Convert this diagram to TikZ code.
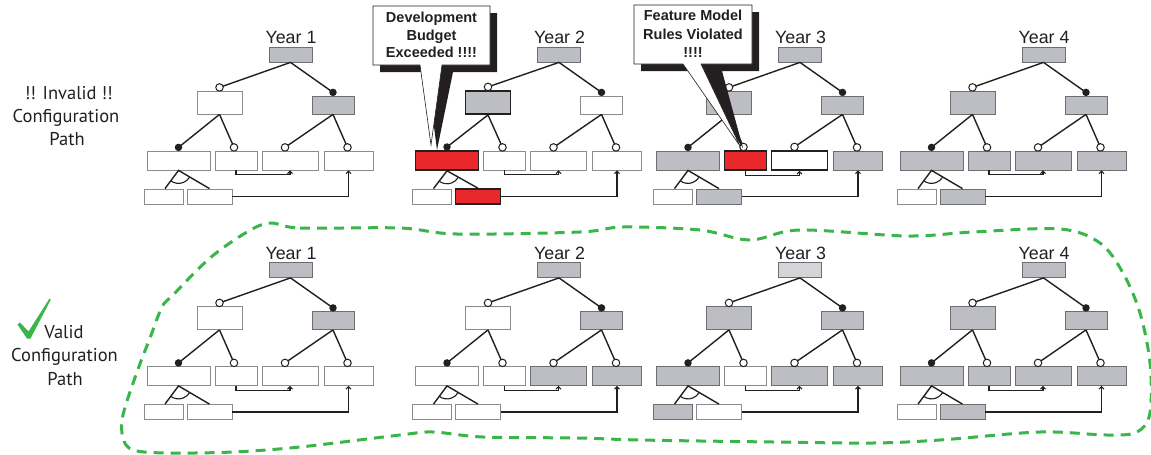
\documentclass[tikz,border=0pt]{standalone}
\usepackage{fontspec}
\setmainfont{Liberation Sans}
\newfontfamily\pathfont{PT Sans}
\usetikzlibrary{calc,arrows.meta}
\definecolor{ink}{HTML}{231F20}
\definecolor{boxgray}{HTML}{BCBEC4}
\definecolor{lightboxgray}{HTML}{D3D5D9}
\definecolor{edgegray}{HTML}{6D6E71}
\definecolor{alertred}{HTML}{E8282B}
\definecolor{okgreen}{HTML}{39B54A}
\tikzset{
 fbox/.style={rectangle, inner sep=0pt, line width=0.8pt},
 gbox/.style={fbox, fill=boxgray, draw=edgegray},
 lgbox/.style={fbox, fill=lightboxgray, draw=edgegray},
 wbox/.style={fbox, fill=white, draw=edgegray!80},
 gboxT/.style={fbox, fill=boxgray, draw=ink, line width=1.8pt},
 wboxT/.style={fbox, fill=white, draw=ink, line width=1.8pt},
 rbox/.style={fbox, fill=alertred, draw=ink, line width=1.6pt},
 link/.style={draw=ink, line width=1.4pt},
 odot/.style={circle, draw=ink, fill=white, line width=1pt, inner sep=0pt, minimum size=7.5pt},
 fdot/.style={circle, fill=ink, inner sep=0pt, minimum size=7.5pt},
 req/.style={draw=ink, line width=1.1pt, -{Straight Barb[length=2.5pt,width=5pt]}},
 yearlbl/.style={anchor=base, inner sep=0pt, text=ink, font=\fontsize{17.8}{20}\selectfont},
 pathlbl/.style={anchor=base, inner sep=0pt, text=ink, font=\pathfont\fontsize{18.5}{22}\selectfont},
 calltxt/.style={anchor=base, inner sep=0pt, text=ink, font=\bfseries\fontsize{14.5}{17}\selectfont},
 shadowfill/.style={fill=ink},
 calloutbody/.style={fill=white, draw=ink, line width=0.6pt, line join=miter},
}
\newcommand\FTree[5]{%
 \begin{scope}[shift={(#2,#3)}, sRoot/.style={gbox}, sL/.style={wbox}, sR/.style={wbox},
   sBa/.style={wbox}, sBb/.style={wbox}, sBc/.style={wbox}, sBd/.style={wbox},
   sLa/.style={wbox}, sLb/.style={wbox}, #5]
 \node[yearlbl] (#1year) at (0.5,43.5) {Year #4};
 \node[sRoot, minimum width=43pt, minimum height=15pt] (#1root) at (0,54.5) {};
 \node[sL, minimum width=45pt, minimum height=23pt] (#1L) at (-71,102.5) {};
 \node[sR, minimum width=42pt, minimum height=18pt] (#1R) at (42.5,105) {};
 \node[sBa, minimum width=63pt, minimum height=19pt] (#1Ba) at (-112,160.5) {};
 \node[sBb, minimum width=42pt, minimum height=19pt] (#1Bb) at (-54.5,160.5) {};
 \node[sBc, minimum width=56pt, minimum height=19pt] (#1Bc) at (-0.5,160.5) {};
 \node[sBd, minimum width=49pt, minimum height=19pt] (#1Bd) at (58,160.5) {};
 \node[sLa, minimum width=39pt, minimum height=15pt] (#1La) at (-127,196.5) {};
 \node[sLb, minimum width=45pt, minimum height=15pt] (#1Lb) at (-81,196.5) {};
 \coordinate (#1pL) at ($(#1L.north)+(0,-3.2)$);
 \coordinate (#1pR) at ($(#1R.north)+(0,-3.2)$);
 \coordinate (#1pBa) at ($(#1Ba.north)+(0,-3.2)$);
 \coordinate (#1pBb) at ($(#1Bb.north)+(-2,-3.2)$);
 \coordinate (#1pBc) at ($(#1Bc.north)+(-5,-3.2)$);
 \coordinate (#1pBd) at ($(#1Bd.north)+(-1,-3.2)$);
 \draw[link] (#1root.south) -- (#1pL) (#1root.south) -- (#1pR);
 \draw[link] (#1L.south) -- (#1pBa) (#1L.south) -- (#1pBb);
 \draw[link] (#1R.south) -- (#1pBc) (#1R.south) -- (#1pBd);
 \draw[link] ($(#1La.north)+(1.5,0)$) -- (#1Ba.south) -- (#1Lb.north);
 \draw[link, line width=1.1pt] ($(#1Ba.south)+(128.3:13)$) arc[start angle=128.3, end angle=31.5, radius=13];
 \draw[req] (#1Bb.south) |- ($(#1Bc.south)+(0,4.5)$) -- (#1Bc.south);
 \draw[req] (#1Lb.east) -| (#1Bd.south);
 \node[odot] (#1cL) at (#1pL) {};
 \node[fdot] (#1cR) at (#1pR) {};
 \node[fdot] (#1cBa) at (#1pBa) {};
 \node[odot] (#1cBb) at (#1pBb) {};
 \node[odot] (#1cBc) at (#1pBc) {};
 \node[odot] (#1cBd) at (#1pBd) {};
 \end{scope}}
\begin{document}
\begin{tikzpicture}[x=1pt,y=-1pt]
\useasboundingbox (0,0) rectangle (1151,455);
% top row: invalid path
\FTree{ta}{290.5}{0}{1}{sR/.style={gbox}}
\FTree{tb}{559}{0}{2}{sL/.style={gboxT}, sBa/.style={rbox}, sLb/.style={rbox}}
\FTree{tc}{800}{0}{3}{sL/.style={gbox}, sR/.style={gbox}, sBa/.style={gbox}, sBb/.style={rbox}, sBc/.style={wboxT}, sBd/.style={gbox}, sLb/.style={gbox}}
\FTree{td}{1043.5}{0}{4}{sL/.style={gbox}, sR/.style={gbox}, sBa/.style={gbox}, sBb/.style={gbox}, sBc/.style={gbox}, sBd/.style={gbox}, sLb/.style={gbox}}
% bottom row: valid path
\FTree{ba}{290.5}{215.5}{1}{sR/.style={gbox}}
\FTree{bb}{559}{215.5}{2}{sR/.style={gbox}, sBc/.style={gbox}, sBd/.style={gbox}}
\FTree{bc}{800}{215.5}{3}{sRoot/.style={lgbox}, sL/.style={gbox}, sR/.style={gbox}, sBa/.style={gbox}, sBc/.style={gbox}, sBd/.style={gbox}, sLa/.style={gbox}}
\FTree{bd}{1043.5}{215.5}{4}{sL/.style={gbox}, sR/.style={gbox}, sBa/.style={gbox}, sBb/.style={gbox}, sBc/.style={gbox}, sBd/.style={gbox}, sLb/.style={gbox}}
% callout 1
\fill[shadowfill] (380,13) -- (497,13) -- (497,72) -- (453,72) -- (437,150) -- (427,72) -- (380,72) -- cycle;
\draw[calloutbody] (373,6) -- (490,6) -- (490,65) -- (442,65) -- (431,145) -- (420,65) -- (373,65) -- cycle;
\node[calltxt] (c1a) at (431.5,22.7) {Development};
\node[calltxt] (c1b) at (431.5,40) {Budget};
\node[calltxt] (c1c) at (431.5,57.5) {Exceeded !!!!};
% callout 2
\fill[shadowfill] (641,12) -- (759,12) -- (759,71) -- (722,71) -- (743,148) -- (690,71) -- (641,71) -- cycle;
\draw[calloutbody] (634,5) -- (752,5) -- (752,64) -- (701,64) -- (740,146) -- (683,64) -- (634,64) -- cycle;
\node[calltxt] (c2a) at (693,20.7) {Feature Model};
\node[calltxt] (c2b) at (693,39) {Rules Violated};
\node[calltxt] (c2c) at (693,57.3) {!!!!};
% left labels
\node[pathlbl] (inv1) at (68.8,99) {!! Invalid !!};
\node[pathlbl] (inv2) at (66,122.3) {Configuration};
\node[pathlbl] (inv3) at (67,145) {Path};
\fill[okgreen] (17.5,324.5) -- (20,322.5) -- (28.5,331.5) -- (49.5,298.5) -- (50.8,299.6) -- (30.5,338.5) -- (27,338.5) -- cycle;
\node[pathlbl] (val1) at (64,338.3) {Valid};
\node[pathlbl] (val2) at (64.5,361.7) {Configuration};
\node[pathlbl] (val3) at (65,385) {Path};
% valid path outline
\draw[okgreen, line width=3pt, dash pattern=on 10pt off 7pt]
 plot[smooth cycle, tension=0.55] coordinates {
 (270,223) (300,228) (400,228) (457,234) (580,232) (623,227) (700,230) (750,240) (800,230)
 (907,236) (973,232) (1060,229) (1100,243) (1123,273) (1140,313) (1150,363) (1150,413)
 (1137,432) (1107,435) (1040,432) (940,440) (873,443) (773,442) (640,440) (578,438)
 (483,437) (433,432) (400,435) (300,447) (233,452) (167,453) (133,450) (123,438)
 (123,415) (137,372) (150,338) (162,307) (173,295) (210,258) (247,232)};
\end{tikzpicture}
\end{document}
